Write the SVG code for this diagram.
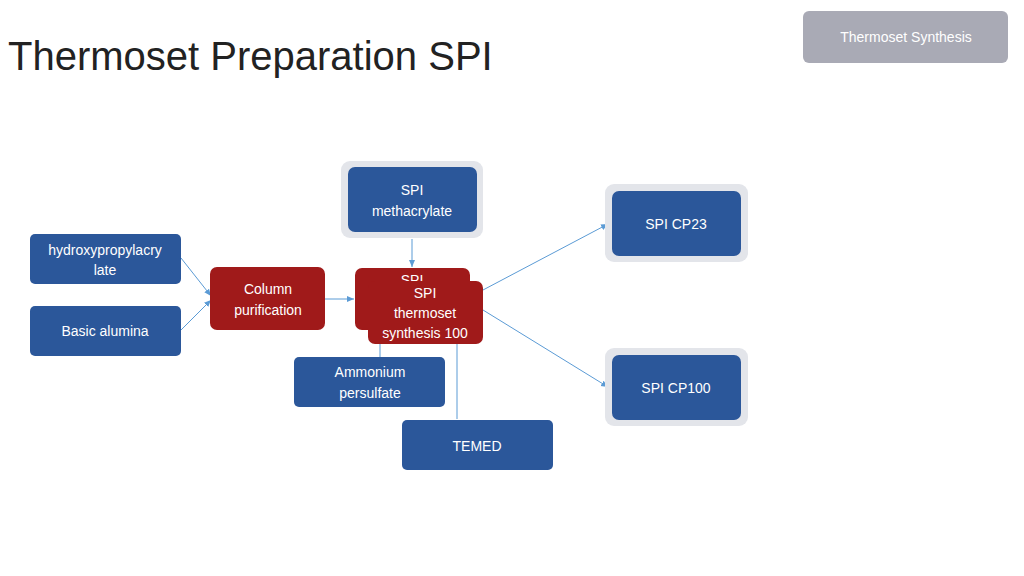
<svg xmlns="http://www.w3.org/2000/svg" width="1024" height="576" viewBox="0 0 1024 576">
<style>
text{font-family:"Liberation Sans",Arial,sans-serif;fill:#fff;font-size:14px;text-anchor:middle}
.b{fill:#2b579a}.r{fill:#a01a1a}.h{fill:#e3e5ea}
.c{stroke:#5b9bd5;stroke-width:1;fill:none}
</style>
<defs><marker id="a" markerWidth="8" markerHeight="8" refX="7" refY="4" orient="auto" markerUnits="userSpaceOnUse"><path d="M0,1 L7,4 L0,7z" fill="#5b9bd5"/></marker></defs>
<rect width="1024" height="576" fill="#fff"/>
<text x="8" y="70" style="font-size:40px;fill:#222;text-anchor:start">Thermoset Preparation SPI</text>
<g id="tag"><rect x="803" y="11" width="205" height="52" rx="6" fill="#a9aab5"/><text x="906" y="42">Thermoset Synthesis</text></g>
<g id="connectors">
<path class="c" d="M181,258 L211,296" marker-end="url(#a)"/>
<path class="c" d="M181,330 L211,300" marker-end="url(#a)"/>
<path class="c" d="M325,299 L354,299" marker-end="url(#a)"/>
<path class="c" d="M412,239 L412,267" marker-end="url(#a)"/>
<path class="c" d="M483,290 L608,224" marker-end="url(#a)"/>
<path class="c" d="M483,310 L608,387" marker-end="url(#a)"/>
<path class="c" d="M380,344 L380,357"/>
<path class="c" d="M457,344 L457,419"/>
</g>
<g id="n-hpa"><rect class="b" x="30" y="234" width="151" height="50" rx="5"/><text x="105" y="255">hydroxypropylacry</text><text x="105" y="275">late</text></g>
<g id="n-alumina"><rect class="b" x="30" y="306" width="151" height="50" rx="5"/><text x="105" y="336">Basic alumina</text></g>
<g id="n-column"><rect class="r" x="210" y="267" width="115" height="63" rx="7"/><text x="268" y="294">Column</text><text x="268" y="315">purification</text></g>
<g id="n-meth"><rect class="h" x="341" y="161" width="142" height="77" rx="9"/><rect class="b" x="348" y="167" width="129" height="65" rx="7"/><text x="412" y="195">SPI</text><text x="412" y="216">methacrylate</text></g>
<g id="n-synth-back"><rect class="r" x="355" y="268" width="115" height="62" rx="7"/><text x="412" y="285">SPI</text></g>
<g id="n-synth"><rect class="r" x="368" y="281" width="115" height="63" rx="7"/><text x="425" y="298">SPI</text><text x="425" y="318">thermoset</text><text x="425" y="338">synthesis 100</text></g>
<g id="n-aps"><rect class="b" x="294" y="357" width="151" height="50" rx="5"/><text x="370" y="377">Ammonium</text><text x="370" y="398">persulfate</text></g>
<g id="n-temed"><rect class="b" x="402" y="420" width="151" height="50" rx="5"/><text x="477" y="451">TEMED</text></g>
<g id="n-cp23"><rect class="h" x="605" y="184" width="143" height="78" rx="9"/><rect class="b" x="612" y="191" width="129" height="65" rx="7"/><text x="676" y="229">SPI CP23</text></g>
<g id="n-cp100"><rect class="h" x="605" y="348" width="143" height="78" rx="9"/><rect class="b" x="612" y="355" width="129" height="65" rx="7"/><text x="676" y="393">SPI CP100</text></g>
</svg>
